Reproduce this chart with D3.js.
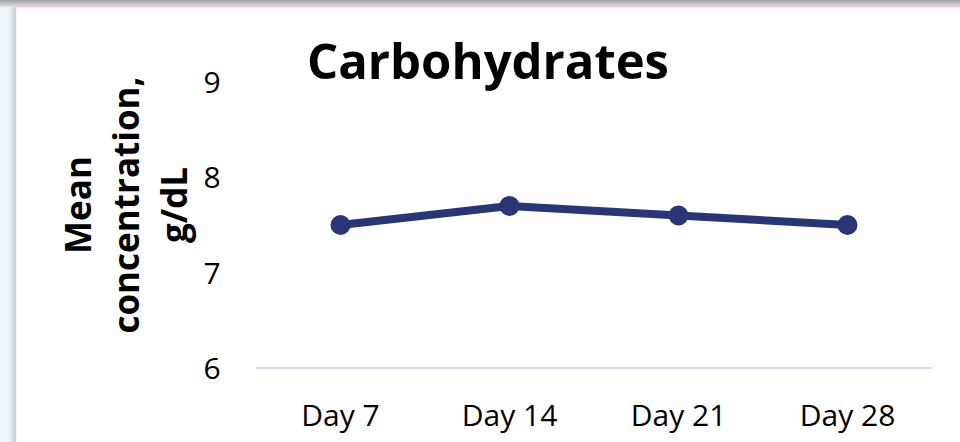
<!DOCTYPE html>
<html>
<head>
    <script type="text/javascript" src="https://d3js.org/d3.v7.min.js"></script>
    <style>
        body { margin: 0; background: #eef7fb; }
        svg text { font-family: "Open Sans", "Noto Sans", sans-serif; fill: #000; }
        .tick-label { font-size: 30px; }
        .title { font-size: 49px; font-weight: bold; }
        .ytitle { font-size: 35px; font-weight: bold; }
    </style>
    <title>Carbohydrates</title>
</head>
<body>
    <svg width="960" height="442"></svg>
    <script>
        // data
        var days = ["Day 7", "Day 14", "Day 21", "Day 28"];
        var carbs = [7.5, 7.7, 7.6, 7.5];
        var yTicks = [6, 7, 8, 9];

        var svg = d3.select("svg");

        // frame: grey strip at top, shadow at left, white panel with pink edge
        var defs = svg.append("defs");
        var gTop = defs.append("linearGradient").attr("id", "topShade")
            .attr("x1", 0).attr("y1", 0).attr("x2", 0).attr("y2", 1);
        gTop.append("stop").attr("offset", "0%").attr("stop-color", "#9ea3a6");
        gTop.append("stop").attr("offset", "100%").attr("stop-color", "#e2e4e6");
        var gLeft = defs.append("linearGradient").attr("id", "leftShade")
            .attr("x1", 0).attr("y1", 0).attr("x2", 1).attr("y2", 0);
        gLeft.append("stop").attr("offset", "0%").attr("stop-color", "#eef7fb");
        gLeft.append("stop").attr("offset", "100%").attr("stop-color", "#c9d2d6");

        svg.append("rect").attr("x", 0).attr("y", 0).attr("width", 960).attr("height", 7)
            .attr("fill", "url(#topShade)");
        svg.append("rect").attr("x", 9).attr("y", 7).attr("width", 6).attr("height", 435)
            .attr("fill", "url(#leftShade)");
        svg.append("rect").attr("x", 15.5).attr("y", 6.5).attr("width", 960).attr("height", 450)
            .attr("fill", "#fff").attr("stroke", "#f4c6d4").attr("stroke-width", 1.5);

        var plotLeft = 256, plotRight = 932, plotTop = 82, plotBottom = 368;

        var x = d3.scaleBand().domain(days).range([plotLeft, plotRight]);
        var y = d3.scaleLinear().domain([6, 9]).range([plotBottom, plotTop]);

        // baseline
        svg.append("line")
            .attr("x1", plotLeft).attr("x2", plotRight)
            .attr("y1", y(6)).attr("y2", y(6))
            .attr("stroke", "#d9dbf0").attr("stroke-width", 2);

        // y tick labels
        var yAxis = svg.append("g")
            .attr("transform", "translate(" + 222 + ",0)")
            .call(d3.axisLeft(y).tickValues(yTicks).tickFormat(d3.format("d"))
                .tickSize(0).tickPadding(0));
        yAxis.select(".domain").remove();
        yAxis.selectAll("text").attr("class", "tick-label").attr("text-anchor", "middle")
            .attr("dy", "0.35em").attr("x", -10);

        // x tick labels
        var xAxis = svg.append("g")
            .attr("transform", "translate(0," + plotBottom + ")")
            .call(d3.axisBottom(x).tickSize(0).tickPadding(0));
        xAxis.select(".domain").remove();
        xAxis.selectAll("text").attr("class", "tick-label").attr("dy", 0).attr("y", 58);

        // title
        svg.append("text")
            .attr("class", "title")
            .attr("x", 488).attr("y", 79)
            .attr("text-anchor", "middle")
            .text("Carbohydrates");

        // y axis title, three lines rotated
        var yt = svg.append("text")
            .attr("class", "ytitle")
            .attr("transform", "translate(91,205) rotate(-90)")
            .attr("text-anchor", "middle");
        ["Mean", "concentration,", "g/dL"].forEach(function (t, i) {
            yt.append("tspan").attr("x", 0).attr("y", i * 48).text(t);
        });

        // line and markers
        var line = d3.line()
            .x(function (d, i) { return x(days[i]) + x.bandwidth() / 2; })
            .y(function (d) { return y(d); });

        svg.append("path")
            .datum(carbs)
            .attr("d", line)
            .attr("fill", "none")
            .attr("stroke", "#293673")
            .attr("stroke-width", 8)
            .attr("stroke-linejoin", "round");

        svg.selectAll(".dot")
            .data(carbs)
            .enter()
            .append("circle")
            .attr("class", "dot")
            .attr("cx", function (d, i) { return x(days[i]) + x.bandwidth() / 2; })
            .attr("cy", function (d) { return y(d); })
            .attr("r", 10)
            .attr("fill", "#293673");
    </script>
</body>
</html>
